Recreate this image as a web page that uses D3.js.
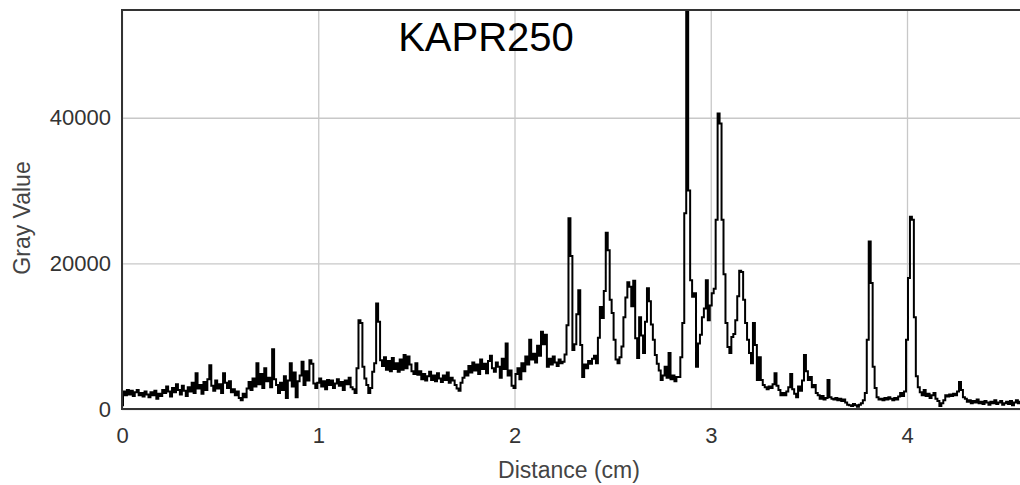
<!DOCTYPE html>
<html>
<head>
<meta charset="utf-8">
<script src="https://cdn.jsdelivr.net/npm/d3@7"></script>
<style>
  body { margin: 0; background: #fff; }
  svg { display: block; font-family: "Liberation Sans", Arial, sans-serif; }
</style>
</head>
<body>
<svg id="chart" width="1020" height="485"></svg>
<script>
var step = 0.01
var grayValues = [
  500, 2400, 1900, 2600, 2000, 2500, 1800, 2300, 2600, 1900,
  2200, 1700, 2400, 2000, 1600, 2300, 1900, 2500, 1400, 2100,
  1800, 2600, 2200, 3100, 2400, 1700, 2900, 2300, 3400, 2600,
  2000, 3200, 2500, 1800, 3000, 2400, 3600, 2200, 4900, 2800,
  3300, 2100, 3700, 2600, 4100, 6000, 3200, 2500, 3900, 2800,
  3400, 2200, 4900, 3600, 2900, 3800, 2300, 2700, 1900, 2400,
  1500, 1200, 2100, 1600, 2800, 3700, 2600, 4200, 3100, 6300,
  3400, 4800, 2900, 5600, 3800, 4300, 3000, 8200, 4100, 3300,
  2200, 3600, 2600, 4500, 1500, 3900, 6300, 3100, 5000, 1600,
  3800, 4600, 6500, 3300, 5200, 3900, 6700, 6200, 3500, 2900,
  3600, 4200, 3100, 3800, 2700, 4000, 3300, 3900, 2900, 3500,
  4100, 3200, 3700, 2600, 3900, 3400, 4300, 3000, 2700, 2200,
  5600, 12200, 11800, 5800, 4200, 3300, 2200, 2900, 5100, 6300,
  14500, 12000, 6700, 5900, 7100, 5400, 6600, 5200, 7000, 5500,
  6300, 5100, 6800, 5400, 7400, 5600, 7200, 6100, 5200, 4800,
  6300, 4700, 5200, 4100, 4800, 3900, 4500, 5100, 4000, 4600,
  3800, 4900, 4200, 3700, 4600, 4000, 5000, 3600, 4300, 3900,
  3300, 2800, 2500, 3600, 4300, 5200, 4600, 5900, 5000, 6400,
  5300, 6100, 4800, 6800, 5500, 6200, 4900, 6600, 7300, 5600,
  5100, 6400, 5800, 4300, 6900, 5500, 9000, 4600, 5300, 3200,
  2900, 4800, 5600, 4100, 6300, 5200, 7200, 6100, 9500, 6800,
  7600, 6400, 8700, 7300, 10600, 8900, 10200, 5800, 6900, 6100,
  7200, 6400, 5900, 6800, 6300, 6500, 7500, 11500, 26200, 21000,
  8100, 8900, 13000, 16300, 8800, 4400, 6100, 5600, 6600, 6200,
  6900, 7300, 6300, 9800, 14000, 12500, 16200, 24200, 21800, 15000,
  13200, 9500, 6800, 6300, 7100, 8600, 12600, 15300, 17400, 16800,
  14100, 17600, 9700, 7000, 12600, 10100, 7700, 12000, 16600, 14800,
  11600, 9500, 7400, 6200, 5300, 4000, 4600, 5800, 4300, 7700,
  4100, 4600, 3800, 4400, 4400, 7100, 11800, 26900, 55500, 30000,
  17700, 15400, 15900, 5800, 9000, 10200, 12600, 13800, 17700, 12200,
  14200, 15900, 16500, 26000, 40600, 39200, 26000, 18500, 11800, 8500,
  7700, 9900, 10300, 12200, 15500, 19000, 18800, 15000, 11800, 9500,
  7700, 6300, 11800, 8800, 4000, 7100, 4000, 3300, 3000, 2700,
  3100, 2900, 3400, 4900, 3200, 2600, 1900, 2200, 1900, 2400,
  3000, 4800, 2700, 2100, 1600, 3100, 2500, 3900, 7400, 5200,
  4000, 4400, 3000, 3300, 2200, 1900, 1400, 1800, 1300, 1500,
  4000, 1600, 1400, 1300, 1500, 1200, 1400, 1100, 1300, 900,
  600, 500, 400, 700, 500, 300, 600, 800, 1200, 2200,
  9500, 23000, 17300, 5800, 2900, 1600, 1300, 1400, 1200, 1500,
  1300, 1600, 1400, 1200, 1500, 1300, 1700, 2200, 1800, 2400,
  9500, 18000, 26400, 26000, 12600, 4500, 3000, 2300, 1900, 2600,
  1800, 2100, 1500, 1900, 2200, 1400, 1100, 400, 800, 1200,
  1900, 1700, 2000, 1800, 2100, 1900, 2400, 3700, 2600, 1600,
  1400, 1000, 1200, 800, 1100, 900, 1300, 800, 1000, 700,
  1100, 900, 600, 1000, 800, 1200, 700, 900, 1100, 600,
  800, 1000, 700, 1100, 500, 900, 1200, 800, 1000, 700
]
var xTicks = [0, 1, 2, 3, 4]
var yTicks = [0, 20000, 40000]
var xMax = 4.6
var yMax = 54800

var svg = d3.select("#chart")
var plotLeft = 122, plotTop = 10, plotBottom = 409, plotRight = 122 + xMax * 196.25

var x = d3.scaleLinear().domain([0, xMax]).range([plotLeft, plotRight])
var y = d3.scaleLinear().domain([0, yMax]).range([plotBottom, plotTop])

var points = grayValues.map(function(v, i) {
    return { d: i * step, v: v }
})

svg.append("defs").append("clipPath")
    .attr("id", "plotclip")
    .append("rect")
    .attr("x", plotLeft).attr("y", plotTop)
    .attr("width", plotRight - plotLeft).attr("height", plotBottom - plotTop)

// grid
svg.append("g")
    .attr("transform", "translate(0," + plotBottom + ")")
    .call(d3.axisBottom(x).tickValues(xTicks).tickSize(-(plotBottom - plotTop)).tickFormat(""))
    .call(function(g) {
        g.select(".domain").remove()
        g.selectAll("line").attr("stroke", "#c8c8c8").attr("stroke-width", 1.3)
    })

svg.append("g")
    .attr("transform", "translate(" + plotLeft + ",0)")
    .call(d3.axisLeft(y).tickValues(yTicks).tickSize(-(plotRight - plotLeft)).tickFormat(""))
    .call(function(g) {
        g.select(".domain").remove()
        g.selectAll("line").attr("stroke", "#c8c8c8").attr("stroke-width", 1.3)
    })

// profile
var line = d3.line()
    .x(function(p) { return x(p.d) })
    .y(function(p) { return y(p.v) })
    .curve(d3.curveStep)

svg.append("path")
    .datum(points)
    .attr("clip-path", "url(#plotclip)")
    .attr("fill", "none")
    .attr("stroke", "#000")
    .attr("stroke-width", 2)
    .attr("d", line)

// frame
svg.append("rect")
    .attr("x", plotLeft).attr("y", plotTop)
    .attr("width", plotRight - plotLeft).attr("height", plotBottom - plotTop)
    .attr("fill", "none")
    .attr("stroke", "#333")
    .attr("stroke-width", 2)

// tick labels
svg.append("g")
    .attr("transform", "translate(0," + plotBottom + ")")
    .call(d3.axisBottom(x).tickValues(xTicks).tickSize(0).tickPadding(18).tickFormat(d3.format("d")))
    .call(function(g) {
        g.select(".domain").remove()
        g.selectAll("text").attr("font-size", 22).attr("fill", "#333")
            .style("font-family", "Liberation Sans, Arial, sans-serif")
    })

svg.append("g")
    .attr("transform", "translate(" + plotLeft + ",0)")
    .call(d3.axisLeft(y).tickValues(yTicks).tickSize(0).tickPadding(11).tickFormat(d3.format("d")))
    .call(function(g) {
        g.select(".domain").remove()
        g.selectAll("text").attr("font-size", 22).attr("fill", "#333")
            .style("font-family", "Liberation Sans, Arial, sans-serif")
    })

// axis titles
svg.append("text")
    .attr("x", 569).attr("y", 478)
    .attr("text-anchor", "middle")
    .attr("font-size", 23).attr("fill", "#444")
    .text("Distance (cm)")

svg.append("text")
    .attr("transform", "translate(30,218) rotate(-90)")
    .attr("text-anchor", "middle")
    .attr("font-size", 23).attr("fill", "#444")
    .text("Gray Value")

svg.append("text")
    .attr("x", 486).attr("y", 51)
    .attr("text-anchor", "middle")
    .attr("font-size", 40).attr("fill", "#000")
    .text("KAPR250")
</script>
</body>
</html>
